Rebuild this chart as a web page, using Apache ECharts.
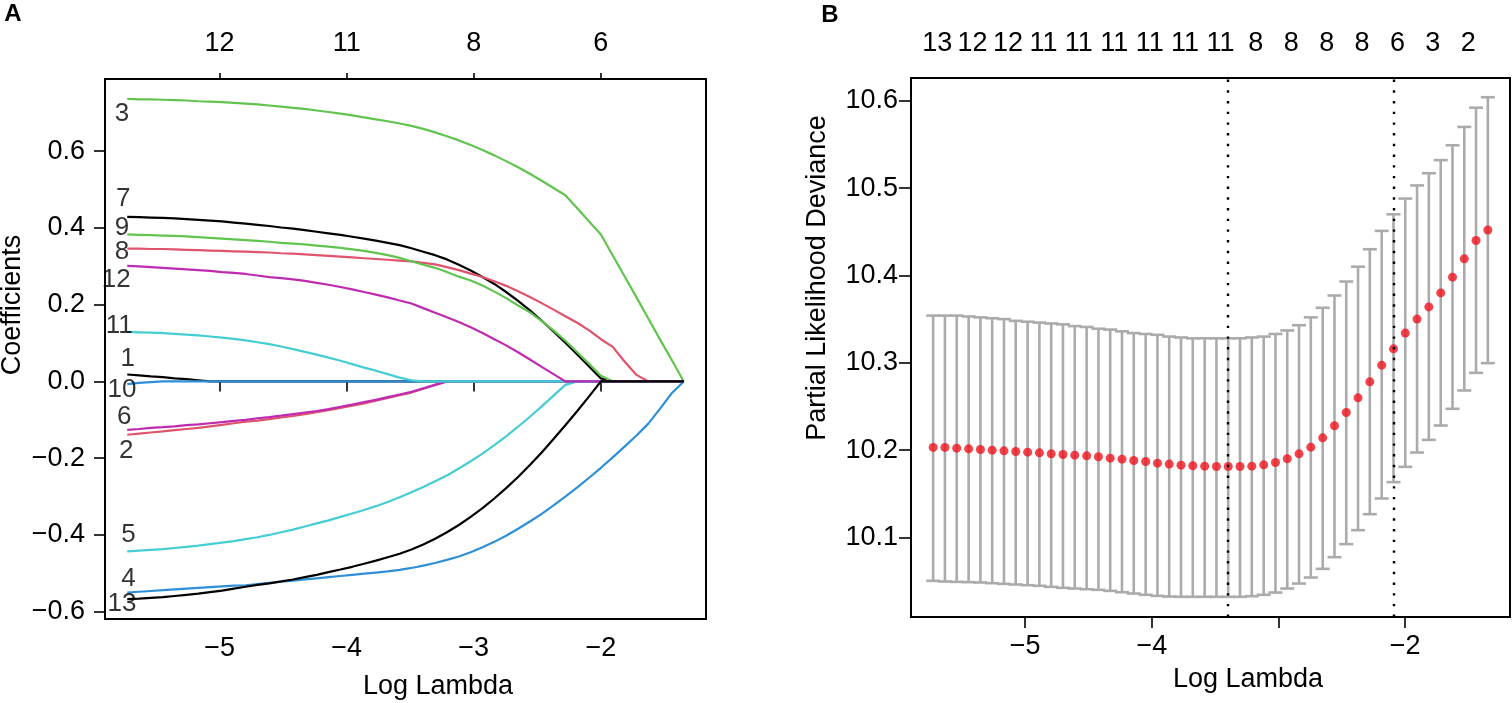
<!DOCTYPE html>
<html><head><meta charset="utf-8">
<script src="https://cdn.jsdelivr.net/npm/echarts@6/dist/echarts.min.js"></script>
<style>html,body{margin:0;padding:0;background:#fff}#c{width:1512px;height:703px}</style>
</head><body><div id="c"></div>
<script>
// ---- data ----
const logLambda = [-5.727,-5.634,-5.541,-5.447,-5.354,-5.261,-5.168,-5.075,-4.981,-4.888,
 -4.795,-4.702,-4.609,-4.515,-4.422,-4.329,-4.236,-4.143,-4.049,-3.956,
 -3.863,-3.770,-3.677,-3.583,-3.490,-3.397,-3.304,-3.211,-3.117,-3.024,
 -2.931,-2.838,-2.745,-2.651,-2.558,-2.465,-2.372,-2.279,-2.185,-2.092,
 -1.999,-1.906,-1.813,-1.719,-1.626,-1.533,-1.440,-1.347];

const beta1 = [0.018,0.016,0.013,0.011,0.008,0.006,0.003,
 0,0,0,0,0,0,0,0,0,0, 0,0,0,0,0,0,0,0,0,0, 0,0,0,0,0,0,0,0,0,0, 0,0,0,0,0,0,0,0,0,0, 0];
const beta2 = [-0.139,-0.136,-0.133,-0.130,-0.127,-0.124,-0.121,-0.117,-0.113,-0.109,
 -0.105,-0.102,-0.098,-0.094,-0.090,-0.085,-0.080,-0.075,-0.069,-0.063,
 -0.057,-0.050,-0.043,-0.036,-0.029,-0.019,-0.009,0,0,0,
 0,0,0,0,0,0,0,0,0,0, 0,0,0,0,0,0,0,0];
const beta3 = [0.736,0.735,0.735,0.734,0.733,0.732,0.730,0.729,0.728,0.726,
 0.724,0.722,0.719,0.716,0.713,0.710,0.706,0.702,0.698,0.693,
 0.688,0.683,0.678,0.672,0.666,0.658,0.649,0.639,0.628,0.616,
 0.603,0.589,0.574,0.558,0.541,0.523,0.504,0.485,0.451,0.417,
 0.383,0.328,0.274,0.219,0.164,0.109,0.055,0];
const beta4 = [-0.550,-0.548,-0.546,-0.544,-0.542,-0.540,-0.538,-0.536,-0.534,-0.532,
 -0.531,-0.528,-0.525,-0.522,-0.519,-0.516,-0.513,-0.510,-0.507,-0.504,
 -0.501,-0.498,-0.495,-0.491,-0.486,-0.480,-0.473,-0.465,-0.456,-0.445,
 -0.432,-0.418,-0.402,-0.384,-0.365,-0.345,-0.323,-0.300,-0.276,-0.251,
 -0.225,-0.198,-0.170,-0.141,-0.110,-0.071,-0.030,0];
const beta5 = [-0.443,-0.441,-0.439,-0.437,-0.434,-0.431,-0.428,-0.424,-0.420,-0.416,
 -0.411,-0.406,-0.400,-0.393,-0.386,-0.378,-0.370,-0.362,-0.353,-0.344,
 -0.335,-0.325,-0.314,-0.302,-0.289,-0.275,-0.260,-0.245,-0.227,-0.208,
 -0.188,-0.166,-0.143,-0.118,-0.092,-0.065,-0.037,-0.009,0,0,
 0,0,0,0,0,0,0,0];
const beta6 = [-0.126,-0.124,-0.121,-0.119,-0.117,-0.114,-0.112,-0.109,-0.106,-0.103,
 -0.100,-0.096,-0.093,-0.089,-0.085,-0.081,-0.077,-0.072,-0.066,-0.060,
 -0.054,-0.048,-0.041,-0.034,-0.027,-0.018,-0.009,0,0,0,
 0,0,0,0,0,0,0,0,0,0, 0,0,0,0,0,0,0,0];
const beta7 = [0.429,0.428,0.427,0.426,0.425,0.423,0.421,0.419,0.417,0.414,
 0.411,0.408,0.405,0.401,0.398,0.394,0.390,0.386,0.382,0.377,
 0.372,0.367,0.361,0.355,0.347,0.338,0.329,0.318,0.304,0.289,
 0.272,0.254,0.233,0.210,0.185,0.158,0.130,0.101,0.070,0.039,
 0.008,0,0,0,0,0,0,0];
const beta8 = [0.346,0.346,0.345,0.345,0.344,0.343,0.342,0.341,0.340,0.339,
 0.338,0.337,0.336,0.334,0.333,0.331,0.329,0.327,0.325,0.323,
 0.321,0.319,0.317,0.315,0.313,0.309,0.305,0.298,0.290,0.281,
 0.272,0.261,0.249,0.235,0.220,0.204,0.187,0.170,0.153,0.133,
 0.110,0.090,0.052,0.017,0,0,0,0];
const beta9 = [0.383,0.382,0.381,0.380,0.379,0.378,0.376,0.374,0.372,0.370,
 0.368,0.366,0.364,0.361,0.359,0.357,0.354,0.351,0.348,0.344,
 0.340,0.335,0.329,0.322,0.313,0.304,0.296,0.285,0.273,0.263,
 0.250,0.234,0.217,0.198,0.180,0.157,0.133,0.106,0.076,0.046,
 0.015,0,0,0,0,0,0,0];
const beta10 = [-0.007,-0.004,-0.002,
 0,0,0,0,0,0,0,0,0,0, 0,0,0,0,0,0,0,0,0,0, 0,0,0,0,0,0,0,0,0,0, 0,0,0,0,0,0,0,0,0,0, 0,0,0,0,0];
const beta11 = [0.129,0.128,0.127,0.126,0.124,0.122,0.120,0.117,0.114,0.111,
 0.107,0.102,0.097,0.091,0.084,0.077,0.070,0.062,0.054,0.045,
 0.036,0.028,0.019,0.010,0.003,0,0,0,0,0,
 0,0,0,0,0,0,0,0,0,0, 0,0,0,0,0,0,0,0];
const beta12 = [0.301,0.300,0.298,0.296,0.294,0.292,0.290,0.288,0.285,0.283,
 0.280,0.276,0.272,0.269,0.266,0.262,0.257,0.252,0.246,0.240,
 0.233,0.226,0.219,0.211,0.203,0.191,0.179,0.167,0.155,0.141,
 0.126,0.110,0.094,0.076,0.057,0.038,0.019,0,0,0,
 0,0,0,0,0,0,0,0];
const beta13 = [-0.567,-0.566,-0.564,-0.562,-0.559,-0.556,-0.553,-0.549,-0.545,-0.540,
 -0.535,-0.530,-0.526,-0.521,-0.516,-0.510,-0.504,-0.497,-0.490,-0.483,
 -0.475,-0.467,-0.458,-0.449,-0.438,-0.425,-0.410,-0.393,-0.374,-0.353,
 -0.330,-0.305,-0.278,-0.249,-0.218,-0.185,-0.150,-0.114,-0.077,-0.039,
 0,0,0,0,0,0,0,0];

const coefNames = ['1','2','3','4','5','6','7','8','9','10','11','12','13'];
const dfTopTicks = [-5,-4,-3,-2];
const dfTopLabels = ['12','11','8','6'];
const xTicks = [-5,-4,-3,-2];
const xLabelsB = [-5,-4,-2];
const yTicksA = [-0.6,-0.4,-0.2,0,0.2,0.4,0.6];
const yTicksB = [10.1,10.2,10.3,10.4,10.5,10.6];

const cvMean = [10.2031,10.2031,10.2023,10.2015,10.2008,10.2000,10.1992,10.1985,10.1977,10.1969,
 10.1958,10.1950,10.1943,10.1935,10.1924,10.1908,10.1897,10.1882,10.1870,10.1851,
 10.1840,10.1828,10.1821,10.1817,10.1813,10.1813,10.1813,10.1817,10.1832,10.1859,
 10.1901,10.1958,10.2034,10.2141,10.2279,10.2431,10.2599,10.2782,10.2973,10.3160,
 10.334,10.350,10.364,10.380,10.398,10.419,10.440,10.452];
const cvUpper = [10.354,10.354,10.354,10.353,10.352,10.351,10.350,10.348,10.347,10.346,
 10.345,10.344,10.342,10.341,10.339,10.338,10.336,10.334,10.333,10.332,
 10.330,10.329,10.328,10.328,10.328,10.328,10.328,10.329,10.330,10.333,
 10.337,10.343,10.352,10.363,10.377,10.393,10.410,10.430,10.451,10.470,
 10.488,10.503,10.517,10.532,10.549,10.570,10.592,10.604];
const cvLower = [10.0504,10.0496,10.0492,10.0489,10.0485,10.0477,10.0469,10.0462,10.0454,10.0447,
 10.0435,10.0424,10.0416,10.0408,10.0401,10.0389,10.0374,10.0359,10.0344,10.0332,
 10.0324,10.0321,10.0321,10.0321,10.0321,10.0321,10.0321,10.0328,10.0344,10.0370,
 10.0416,10.0473,10.0542,10.0641,10.0775,10.0924,10.1084,10.1267,10.1447,10.1634,
 10.1809,10.1973,10.2118,10.2282,10.2473,10.2683,10.2885,10.2996];

const nzIdx = [0,3,6,9,12,15,18,21,24,27,30,33,36,39,42,45];
const nzLabels = ['13','12','12','11','11','11','11','11','11','8','8','8','8','6','3','2'];
const lambdaMinIdx = 25;
const lambda1seIdx = 39;

// ---- chart ----
const betas = [beta1,beta2,beta3,beta4,beta5,beta6,beta7,beta8,beta9,beta10,beta11,beta12,beta13];
const pal = ['#000000','#DF536B','#61C44F','#2E8FD8','#45CDD4','#BF2AB2'];
const FONT = '"Liberation Sans", Arial, Helvetica, sans-serif';
const fmtMinus = s => String(s).replace('-', '\u2212');

// label anchors for coefficient numbers (data units)
const labelAnchors = [
 ['3',-5.768,0.696],['7',-5.758,0.477],['9',-5.768,0.400],['8',-5.768,0.338],
 ['12',-5.813,0.264],['11',-5.790,0.146],['1',-5.724,0.059],['10',-5.768,-0.023],
 ['6',-5.750,-0.091],['2',-5.734,-0.180],['5',-5.718,-0.399],['4',-5.718,-0.515],['13',-5.768,-0.579]
];

const XMIN = -5.902, XMAX = -1.172;
const tickStyle = {color:'#000', width:1.6};
const lblBase = {color:'#000', fontSize:27, fontFamily:FONT};

function nearestIdx(arr, v){ let b=0, d=1e9; arr.forEach((a,i)=>{const e=Math.abs(a-v); if(e<d){d=e;b=i;}}); return b; }

const series = [];
betas.forEach((b,k)=>{
  series.push({
    type:'line', xAxisIndex:0, yAxisIndex:0, name:coefNames[k],
    data: logLambda.map((x,i)=>[x,b[i]]),
    symbol:'none', silent:true, animation:false,
    lineStyle:{color:pal[k%6], width:2.2}, itemStyle:{color:pal[k%6]}, z:2
  });
});
series.push({
  type:'scatter', xAxisIndex:0, yAxisIndex:0, silent:true, animation:false,
  symbolSize:1, itemStyle:{color:'rgba(0,0,0,0)'}, clip:false, z:5,
  data: labelAnchors.map(a=>({name:a[0], value:[a[1],a[2]]})),
  label:{show:true, position:'inside', formatter:p=>p.name, color:'#000', fontSize:26, fontFamily:FONT}
});
series.push({
  type:'custom', xAxisIndex:2, yAxisIndex:1, silent:true, animation:false, z:2,
  data: logLambda.map((x,i)=>[x,cvLower[i],cvUpper[i]]),
  encode:{x:0, y:[1,2]},
  renderItem:function(params, api){
    const x = api.value(0);
    const lo = api.coord([x, api.value(1)]);
    const hi = api.coord([x, api.value(2)]);
    const w = 7;
    const st = {stroke:'#ABABAB', lineWidth:2.6};
    return {type:'group', children:[
      {type:'line', shape:{x1:lo[0],y1:lo[1],x2:hi[0],y2:hi[1]}, style:st},
      {type:'line', shape:{x1:lo[0]-w,y1:lo[1],x2:lo[0]+w,y2:lo[1]}, style:st},
      {type:'line', shape:{x1:hi[0]-w,y1:hi[1],x2:hi[0]+w,y2:hi[1]}, style:st}
    ]};
  }
});
series.push({
  type:'scatter', xAxisIndex:2, yAxisIndex:1, silent:true, animation:false, z:3,
  symbolSize:0, data:[[logLambda[lambdaMinIdx], cvMean[lambdaMinIdx]]],
  markLine:{silent:true, symbol:['none','none'], animation:false, label:{show:false},
    lineStyle:{color:'#000', width:2.4, type:[2.4,8.3], cap:'butt'},
    data:[{xAxis:logLambda[lambdaMinIdx]},{xAxis:logLambda[lambda1seIdx]}]}
});
series.push({
  type:'scatter', xAxisIndex:2, yAxisIndex:1, silent:true, animation:false, z:4,
  symbolSize:9, itemStyle:{color:'#F0141E'},
  data: logLambda.map((x,i)=>[x,cvMean[i]])
});

const option = {
  animation:false,
  backgroundColor:'#fff',
  textStyle:{fontFamily:FONT},
  grid:[
    {left:105, top:79, width:601, height:540, show:true, borderColor:'#000', borderWidth:2, backgroundColor:'transparent'},
    {left:911, top:78, width:599, height:539, show:true, borderColor:'#000', borderWidth:2, backgroundColor:'transparent'}
  ],
  xAxis:[
    {gridIndex:0, type:'value', position:'bottom', min:XMIN, max:XMAX,
     axisLine:{show:false}, splitLine:{show:false},
     axisTick:{show:true, inside:false, length:10, customValues:xTicks, lineStyle:tickStyle},
     axisLabel:Object.assign({customValues:xTicks, margin:16, formatter:v=>fmtMinus(Math.round(v))}, lblBase)},
    {gridIndex:0, type:'value', position:'top', min:XMIN, max:XMAX,
     axisLine:{show:false}, splitLine:{show:false},
     axisTick:{show:true, inside:false, length:6, customValues:dfTopTicks, lineStyle:tickStyle},
     axisLabel:Object.assign({customValues:dfTopTicks, margin:22, formatter:v=>dfTopLabels[nearestIdx(dfTopTicks,v)]}, lblBase)},
    {gridIndex:1, type:'value', position:'bottom', min:XMIN, max:XMAX,
     axisLine:{show:false}, splitLine:{show:false},
     axisTick:{show:true, inside:false, length:11, customValues:xTicks, lineStyle:tickStyle},
     axisLabel:Object.assign({customValues:xLabelsB, margin:16, formatter:v=>fmtMinus(Math.round(v))}, lblBase)},
    {gridIndex:1, type:'value', position:'top', min:XMIN, max:XMAX,
     axisLine:{show:false}, splitLine:{show:false},
     axisTick:{show:false},
     axisLabel:Object.assign({customValues:nzIdx.map(i=>logLambda[i]), margin:21, padding:[0,0,0,8],
       formatter:v=>nzLabels[nearestIdx(nzIdx.map(i=>logLambda[i]),v)]}, lblBase)}
  ],
  yAxis:[
    {gridIndex:0, type:'value', min:-0.619, max:0.788,
     axisLine:{show:false}, splitLine:{show:false},
     axisTick:{show:true, inside:false, length:11, customValues:yTicksA, lineStyle:tickStyle},
     axisLabel:Object.assign({customValues:yTicksA, margin:20, formatter:v=>fmtMinus((Math.abs(v)<1e-9?0:v).toFixed(1))}, lblBase)},
    {gridIndex:1, type:'value', min:10.009, max:10.626,
     axisLine:{show:false}, splitLine:{show:false},
     axisTick:{show:true, inside:false, length:12, customValues:yTicksB, lineStyle:tickStyle},
     axisLabel:Object.assign({customValues:yTicksB, margin:13, formatter:v=>v.toFixed(1)}, lblBase)}
  ],
  graphic:[
    {type:'text', x:13, y:14, style:{text:'A', font:'bold 24px '+FONT, fill:'#000', align:'center', verticalAlign:'middle'}},
    {type:'text', x:830, y:15, style:{text:'B', font:'bold 24px '+FONT, fill:'#000', align:'center', verticalAlign:'middle'}},
    {type:'text', x:13, y:305, rotation:Math.PI/2, style:{text:'Coefficients', font:'27px '+FONT, fill:'#000', align:'center', verticalAlign:'middle'}},
    {type:'text', x:818, y:278, rotation:Math.PI/2, style:{text:'Partial Likelihood Deviance', font:'27px '+FONT, fill:'#000', align:'center', verticalAlign:'middle'}},
    {type:'text', x:438, y:687, style:{text:'Log Lambda', font:'27px '+FONT, fill:'#000', align:'center', verticalAlign:'middle'}},
    {type:'text', x:1248, y:680, style:{text:'Log Lambda', font:'27px '+FONT, fill:'#000', align:'center', verticalAlign:'middle'}}
  ],
  series: series
};
const chart = echarts.init(document.getElementById('c'), null, {renderer:'canvas'});
chart.setOption(option);
</script></body></html>
